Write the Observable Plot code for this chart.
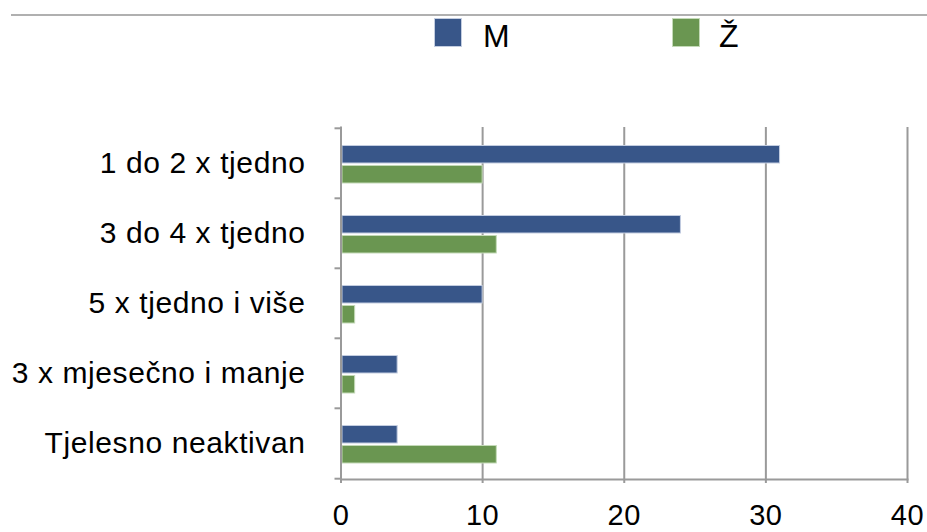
<!DOCTYPE html>
<html><head><meta charset="utf-8">
<script src="https://cdn.jsdelivr.net/npm/d3@7"></script>
<script src="https://cdn.jsdelivr.net/npm/@observablehq/plot@0.6"></script>
<style>
body{margin:0;background:#fff;font-family:"Liberation Sans",Arial,sans-serif;}
#wrap{position:relative;width:927px;height:532px;overflow:hidden;background:#fff}
#head{position:relative;width:927px;height:100px}
.topline{position:absolute;left:11px;right:0;top:14px;height:2px;background:#b0b0b0}
.sw{position:absolute;top:18px;width:28px;height:29px;box-sizing:border-box}
.lt{position:absolute;top:20px;font-size:32px;line-height:1;color:#000}
#chart svg{display:block}
</style>
</head><body>
<div id="wrap">
  <div id="head"><div class="topline"></div><div id="legend"></div></div>
  <div id="chart"></div>
</div>
<script>
const categories = ["1 do 2 x tjedno", "3 do 4 x tjedno", "5 x tjedno i više", "3 x mjesečno i manje", "Tjelesno neaktivan"];
const seriesNames = ["M", "Ž"];
const valuesM = [31, 24, 10, 4, 4];
const valuesZ = [10, 11, 1, 1, 11];
const xTicks = [0, 10, 20, 30, 40];
const colors = ["#385689", "#6a9651"];
const outlines = ["#c3cde0", "#c4dab8"];

// legend
const legend = document.getElementById("legend");
const swX = [434, 672], txX = [483, 719];
seriesNames.forEach((n, i) => {
  const s = document.createElement("div");
  s.className = "sw"; s.style.left = swX[i] + "px"; s.style.background = colors[i];
  s.style.border = "1px solid " + outlines[i];
  legend.appendChild(s);
  const t = document.createElement("div");
  t.className = "lt"; t.style.left = txX[i] + "px"; t.textContent = n;
  legend.appendChild(t);
});

const dataM = categories.map((c, i) => ({cat: c, value: valuesM[i]}));
const dataZ = categories.map((c, i) => ({cat: c, value: valuesZ[i]}));

const W = 927, H = 432, mT = 27, mB = 53, mL = 340.5, mR = 20;
const bw = (H - mT - mB) / categories.length;
const grey = "#9a9a9a";

const chart = Plot.plot({
  width: W, height: H,
  marginTop: mT, marginBottom: mB, marginLeft: mL, marginRight: mR,
  style: {fontFamily: "'Liberation Sans', Arial, sans-serif", color: "#000", background: "#fff", overflow: "visible"},
  x: {domain: [0, 40], ticks: xTicks},
  y: {domain: categories, padding: 0},
  marks: [
    Plot.gridX(xTicks.slice(1), {stroke: grey, strokeOpacity: 1, strokeWidth: 2}),
    Plot.barX(dataM, {x: "value", y: "cat", fill: colors[0], stroke: outlines[0], strokeWidth: 1, insetTop: 17.5, insetBottom: 35, insetLeft: 1.5}),
    Plot.barX(dataZ, {x: "value", y: "cat", fill: colors[1], stroke: outlines[1], strokeWidth: 1, insetTop: 37.5, insetBottom: 15, insetLeft: 1.5}),
    Plot.ruleY(categories, {dy: -bw / 2, insetLeft: -6, insetRight: W - mL - mR, stroke: grey, strokeWidth: 2}),
    Plot.ruleY(categories.slice(-1), {dy: bw / 2, insetLeft: -6, insetRight: W - mL - mR, stroke: grey, strokeWidth: 2}),
    Plot.frame({anchor: "left", stroke: grey, strokeWidth: 2}),
    Plot.frame({anchor: "bottom", stroke: grey, strokeWidth: 2}),
    Plot.axisX({ticks: xTicks, tickSize: 4, tickPadding: 21, stroke: grey, strokeWidth: 2, fill: "#000", fontSize: 29, label: null, tickFormat: d => String(d)}),
    Plot.axisY({tickSize: 0, tickPadding: 35.5, fill: "#000", fontSize: 30, label: null})
  ]
});
chart.querySelectorAll("text").forEach(t => t.style.letterSpacing = "0.6px");
document.getElementById("chart").appendChild(chart);
</script>
</body></html>
